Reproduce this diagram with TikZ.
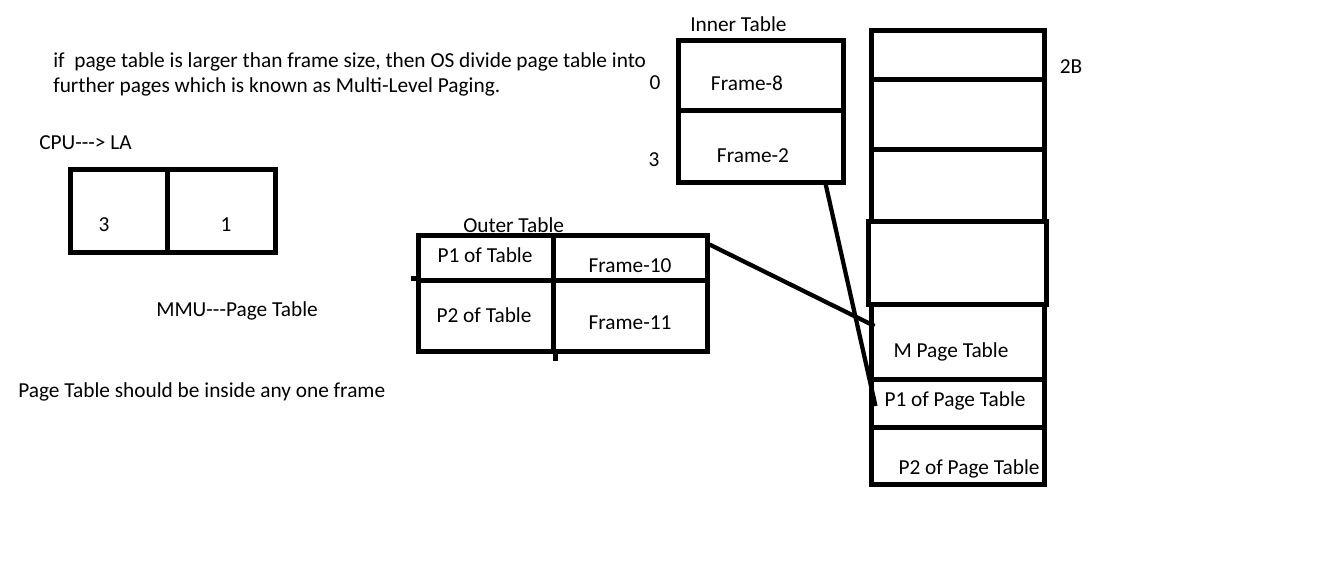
\documentclass[tikz,border=0pt]{standalone}
\usepackage{fontspec}
\setmainfont{Carlito}[Ligatures=TeXOff]
\usetikzlibrary{fit,calc}
\begin{document}
\begin{tikzpicture}[x=0.75pt,y=-0.75pt,
  box/.style={draw=black, line width=3.75pt, inner sep=0pt},
  conn/.style={draw=black, line width=3.2pt},
  txt/.style={inner sep=0pt, font=\fontsize{16}{18.75}\selectfont},
  ltxt/.style={txt, anchor=west}]
\useasboundingbox[fill=white] (0,0) rectangle (1340,574);
% intro text
\node[ltxt, align=left] (intro) at (53,74) {if\ \ page table is larger than frame size, then OS divide page table into\\further pages which is known as Multi-Level Paging.};
\node[ltxt] (cpu) at (39,143) {CPU---> LA};
% logical address
\node[box, fit={(70,170) (167,253)}] (la1) {};
\node[box, fit={(167,170) (275,253)}] (la2) {};
\node[txt] (la1t) at (104,225) {3};
\node[txt] (la2t) at (226,225) {1};
\node[ltxt] (mmu) at (156,311) {MMU---Page Table};
\node[ltxt] (note) at (18,392) {Page Table should be inside any one frame};
% outer table
\node[ltxt] (outl) at (463,225) {Outer Table};
\node[box, fit={(418,236) (553,281)}] (o11) {};
\node[box, fit={(553,236) (707,281)}] (o12) {};
\node[box, fit={(418,281) (553,351)}] (o21) {};
\node[box, fit={(553,281) (707,351)}] (o22) {};
\draw[box] (o21.north west) -- ++(-5,0);
\draw[box] (o21.south east) -- ++(0,7);
\node[txt] (o11t) at (485,255) {P1 of Table};
\node[txt] (o12t) at (630,266) {Frame-10};
\node[txt] (o21t) at (484,315) {P2 of Table};
\node[txt] (o22t) at (630,323) {Frame-11};
% inner table
\node[ltxt] (inl) at (690,24) {Inner Table};
\node[box, fit={(678,41) (843,111)}] (i1) {};
\node[box, fit={(678,111) (843,183)}] (i2) {};
\node[txt] (i1t) at (747,83) {Frame-8};
\node[txt] (i2t) at (753,156) {Frame-2};
\node[txt] (i1n) at (655,83) {0};
\node[txt] (i2n) at (654,160) {3};
% memory
\node[box, fit={(871,31) (1044,80)}] (m1) {};
\node[box, fit={(871,80) (1044,150)}] (m2) {};
\node[box, fit={(871,150) (1044,222)}] (m3) {};
\node[box, fit={(868,222) (1046,305)}] (m4) {};
\node[box, fit={(871,305) (1044,379)}] (m5) {};
\node[box, fit={(871,379) (1044,427)}] (m6) {};
\node[box, fit={(871,427) (1044,484)}] (m7) {};
\node[txt] (m1n) at (1071,67) {2B};
\node[txt] (m5t) at (951,352) {M Page Table};
\node[txt] (m6t) at (955,401) {P1 of Page Table};
\node[txt] (m7t) at (969,469) {P2 of Page Table};
% connectors
\coordinate (e1) at ($(m5.west)+(6,-16)$);
\coordinate (e2) at ($(m6.west)+(7,3)$);
\draw[conn] ($(o12.north east)+(0,11)$) -- (e1);
\draw[conn] ($(i2.south east)+(-20,-2)$) -- (e2);
\end{tikzpicture}
\end{document}
